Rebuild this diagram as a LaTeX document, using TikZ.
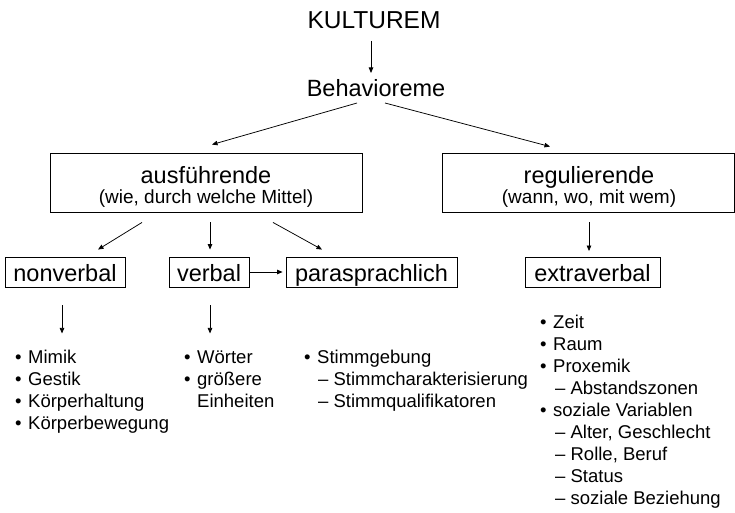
\documentclass[tikz,border=0pt]{standalone}
\usepackage{fontspec}
\setmainfont{Liberation Sans}
\usetikzlibrary{arrows.meta,calc}
\newcommand\fkult{\fontsize{24.5}{29}\selectfont}
\newcommand\fbig{\fontsize{23.5}{28}\selectfont}
\newcommand\fsub{\fontsize{19}{22}\selectfont}
\newcommand\flist{\fontsize{18.5}{22}\selectfont}
\begin{document}
\begin{tikzpicture}[x=1pt,y=-1pt,
  box/.style={draw, line width=0.9pt, inner sep=0pt, text height=20pt, text depth=2pt, font=\fbig},
  lbl/.style={inner sep=0pt, anchor=base},
  arr/.style={line width=0.75pt, -{Triangle[length=5.5pt,width=4.5pt]}},
  lst/.style={inner sep=0pt, anchor=base west, font=\flist}]
\useasboundingbox (0,0) rectangle (735,513);

% top
\node[lbl, font=\fkult] (kult) at (374,29) {KULTUREM};
\node[lbl, font=\fbig] (behav) at (376,97) {Behavioreme};

% second level boxes
\node[box, minimum width=312pt, minimum height=59pt] (ausf) at (206,182.5) {};
\node[lbl, font=\fbig] (ausft) at (206,183) {ausführende};
\node[lbl, font=\fsub] (ausfs) at (206,203) {(wie, durch welche Mittel)};
\node[box, minimum width=292pt, minimum height=59pt] (reg) at (588,182.5) {};
\node[lbl, font=\fbig] (regt) at (589,183) {regulierende};
\node[lbl, font=\fsub] (regs) at (589,203) {(wann, wo, mit wem)};

% third level boxes
\node[box, minimum width=120pt, minimum height=30pt] (nonv) at (65,272) {nonverbal};
\node[box, minimum width=80pt, minimum height=30pt] (verb) at (209,272) {verbal};
\node[box, minimum width=171pt, minimum height=30pt] (para) at (371.5,272) {parasprachlich};
\node[box, minimum width=135pt, minimum height=30pt] (extra) at (592.5,272.5) {extraverbal};

% arrows
\draw[arr] ($(kult.base)+(-3,12)$) -- ($(behav.base)+(-5,-24)$);
\draw[arr] ($(behav.base)+(-19,6)$) -- ($(ausf.north)+(6,-8)$);
\draw[arr] ($(behav.base)+(9,6)$) -- ($(reg.north)+(-38,-6)$);
\draw[arr] ($(ausf.south)+(-64,10)$) -- ($(nonv.north)+(33,-7)$);
\draw[arr] ($(ausf.south)+(4,10)$) -- ($(verb.north)+(1,-7)$);
\draw[arr] ($(ausf.south)+(67,10)$) -- ($(para.north)+(-49.5,-7)$);
\draw[arr] ($(reg.south)+(1,10)$) -- ($(extra.north)+(-3.5,-6)$);
\draw[arr, shorten >=3pt] (verb.east) -- (para.west);
\draw[arr] ($(nonv.south)+(-3,18)$) -- ($(nonv.south)+(-3,46)$);
\draw[arr] ($(verb.south)+(1,18)$) -- ($(verb.south)+(1,46)$);

% lists
\node[lst] (lnonv) at (15,363) {\begin{tabular}[t]{@{}p{13pt}@{}l@{}}
•&Mimik\\
•&Gestik\\
•&Körperhaltung\\
•&Körperbewegung
\end{tabular}};
\node[lst] (lverb) at (184,363) {\begin{tabular}[t]{@{}p{13pt}@{}l@{}}
•&Wörter\\
•&größere\\
&Einheiten
\end{tabular}};
\node[lst] (lpara) at (304,363) {\begin{tabular}[t]{@{}p{13pt}@{}l@{}}
•&Stimmgebung\\
&\hspace{1pt}– Stimmcharakterisierung\\
&\hspace{1pt}– Stimmqualifikatoren
\end{tabular}};
\node[lst] (lextra) at (540,328) {\begin{tabular}[t]{@{}p{13pt}@{}l@{}}
•&Zeit\\
•&Raum\\
•&Proxemik\\
&\hspace{2pt}– Abstandszonen\\
•&soziale Variablen\\
&\hspace{2pt}– Alter, Geschlecht\\
&\hspace{2pt}– Rolle, Beruf\\
&\hspace{2pt}– Status\\
&\hspace{2pt}– soziale Beziehung
\end{tabular}};
\end{tikzpicture}
\end{document}
